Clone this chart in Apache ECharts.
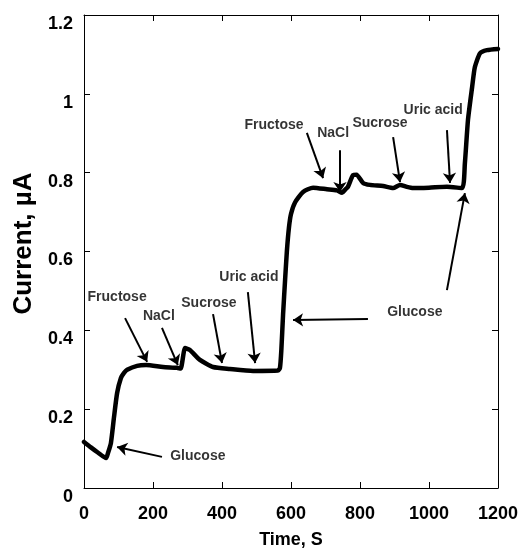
<!DOCTYPE html>
<html>
<head>
<meta charset="utf-8">
<script src="https://cdn.jsdelivr.net/npm/echarts@6/dist/echarts.min.js"></script>
<style>
  html, body { margin: 0; padding: 0; background: #fff; }
  #chart { width: 520px; height: 549px; }
</style>
</head>
<body>
<div id="chart"></div>
<script>
// time (s) and current (uA)
const times = [0, 20, 40, 64, 70, 78, 87, 96, 107, 116,
  125, 154, 180, 229, 269, 280, 293, 307, 336, 374,
  423, 490, 562, 568, 572, 577, 583, 588, 594, 600,
  612, 635, 664, 704, 733, 748, 757, 765, 780, 790,
  809, 829, 867, 896, 916, 936, 954, 1000, 1052, 1096,
  1104, 1113, 1125, 1133, 1148, 1168, 1200];
const currents = [0.117, 0.103, 0.09, 0.076, 0.09, 0.114, 0.18, 0.241, 0.279, 0.292,
  0.3, 0.31, 0.312, 0.307, 0.305, 0.303, 0.355, 0.35, 0.325, 0.307,
  0.302, 0.297, 0.298, 0.305, 0.35, 0.44, 0.53, 0.6, 0.66, 0.695,
  0.725, 0.751, 0.762, 0.758, 0.755, 0.749, 0.757, 0.764, 0.794, 0.795,
  0.774, 0.769, 0.766, 0.761, 0.769, 0.764, 0.761, 0.762, 0.764, 0.761,
  0.824, 0.934, 1.017, 1.068, 1.103, 1.111, 1.114];

// annotation labels (data coords)
const noteText = ["Glucose", "Fructose", "NaCl", "Sucrose", "Uric acid",
  "Glucose", "Fructose", "NaCl", "Sucrose", "Uric acid"];
const noteX = [330, 96, 217, 362, 478, 959, 551, 722, 858, 1012];
const noteY = [0.081, 0.485, 0.436, 0.469, 0.535, 0.446, 0.921, 0.901, 0.926, 0.959];

// arrows: [fromX, fromY, toX, toY]
const arrows = [
  [226, 0.079, 96, 0.104],
  [119, 0.431, 183, 0.320],
  [226, 0.406, 272, 0.312],
  [374, 0.441, 400, 0.317],
  [475, 0.497, 496, 0.317],
  [823, 0.429, 606, 0.426],
  [1052, 0.502, 1104, 0.748],
  [646, 0.901, 693, 0.786],
  [742, 0.857, 742, 0.751],
  [896, 0.890, 916, 0.776],
  [1052, 0.908, 1061, 0.774],
];

const xTicks = { min: 0, max: 1200, interval: 200 };
const yTicks = { min: 0, max: 1.2, interval: 0.2 };

const font = "'Liberation Sans', Arial, sans-serif";

const chart = echarts.init(document.getElementById("chart"));

const frameAxis = (extra) => Object.assign({
  type: "value",
  axisLine: { show: true, onZero: false, lineStyle: { color: "#000", width: 1 } },
  axisTick: { show: true, inside: true, length: 6, lineStyle: { color: "#000", width: 1 } },
  splitLine: { show: false },
  axisLabel: { show: false },
}, extra);

const options = {
  animation: false,
  backgroundColor: "#fff",
  grid: { left: 84, top: 15, right: 22, bottom: 61, outerBoundsMode: "none" },
  xAxis: [
    frameAxis({
      ...xTicks,
      position: "bottom",
      name: "Time, S",
      nameLocation: "middle",
      nameGap: 43,
      nameTextStyle: { fontFamily: font, fontWeight: "bold", fontSize: 18, color: "#000" },
      axisLabel: {
        show: true, margin: 17, color: "#000",
        fontFamily: font, fontWeight: "bold", fontSize: 18,
        formatter: (v) => String(v),
      },
    }),
    frameAxis({ ...xTicks, position: "top" }),
  ],
  yAxis: [
    frameAxis({
      ...yTicks,
      position: "left",
      name: "Current, \u00b5A",
      nameLocation: "middle",
      nameGap: 44,
      nameTextStyle: {
        fontFamily: font, fontWeight: "bold", fontSize: 26, color: "#000",
        padding: [0, 0, 0, 16],
      },
      axisLabel: {
        show: true, margin: 11, color: "#000",
        fontFamily: font, fontWeight: "bold", fontSize: 18,
        verticalAlign: "top",
      },
    }),
    frameAxis({ ...yTicks, position: "right" }),
  ],
  series: [
    {
      type: "line",
      data: times.map((t, i) => [t, currents[i]]),
      showSymbol: false,
      smooth: 0.2,
      lineStyle: { color: "#000", width: 4.5, join: "round", cap: "round" },
      markLine: {
        silent: true,
        symbol: ["none", "arrow"],
        symbolSize: 10,
        label: { show: false },
        lineStyle: { color: "#000", width: 2, type: "solid" },
        data: arrows.map((a) => [
          { coord: [a[0], a[1]] },
          { coord: [a[2], a[3]] },
        ]),
      },
    },
    {
      type: "scatter",
      symbolSize: 0,
      data: noteText.map((s, i) => ({ value: [noteX[i], noteY[i]], name: s })),
      label: {
        show: true,
        position: "inside",
        formatter: (p) => p.name,
        color: "#000",
        fontFamily: font,
        fontWeight: "bold",
        fontSize: 14,
      },
    },
  ],
};

chart.setOption(options);
</script>
</body>
</html>
